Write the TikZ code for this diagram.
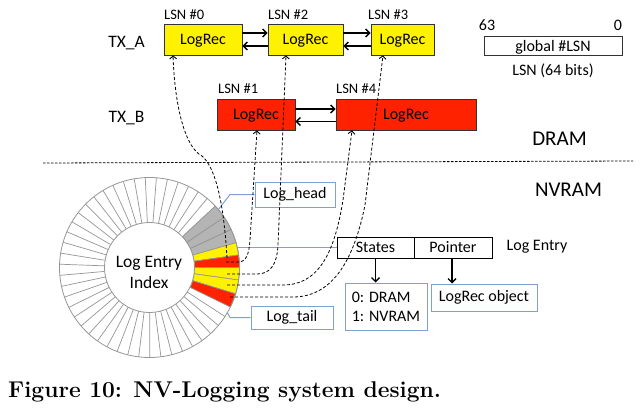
\documentclass[tikz,border=0pt]{standalone}
\usepackage{fontspec}
\newfontfamily\carl{Carlito}
\usetikzlibrary{arrows.meta}
\definecolor{bluebd}{RGB}{126,160,210}
\definecolor{redfill}{RGB}{255,34,0}
\definecolor{grayfill}{RGB}{180,180,180}
\definecolor{ringline}{RGB}{150,150,150}
\tikzset{
  lrbox/.style={draw=black!80, line width=0.8pt, minimum height=31pt, inner sep=0pt, text depth=0pt, font=\carl\fontsize{16}{19}\selectfont},
  lsnlbl/.style={inner sep=0pt, anchor=west, font=\carl\fontsize{14.5}{17}\selectfont},
  txtsix/.style={inner sep=0pt, font=\carl\fontsize{16}{19}\selectfont},
  bluebox/.style={draw=bluebd, line width=1pt, inner sep=0pt, font=\carl\fontsize{16}{19}\selectfont},
  bluecon/.style={draw=bluebd, line width=1pt},
  solidarr/.style={line width=1.4pt, -{Straight Barb[length=4pt,width=8pt]}},
  dasharr/.style={dash pattern=on 3pt off 2pt, line width=0.8pt, -{Straight Barb[length=3pt,width=7pt,line width=0.9pt]}},
  entrybox/.style={draw=black, line width=0.9pt, minimum height=21pt, inner sep=0pt, font=\carl\fontsize{16}{19}\selectfont},
}
\begin{document}
\begin{tikzpicture}[x=1pt,y=-1pt]
\useasboundingbox (0,0) rectangle (641,415);

% ---- DRAM part ----
\node[inner sep=0pt, anchor=base, font=\carl\fontsize{17.5}{20}\selectfont] (txa) at (126.5,47) {TX\_A};
\node[inner sep=0pt, anchor=base, font=\carl\fontsize{17.5}{20}\selectfont] (txb) at (126.5,122) {TX\_B};

\node[lrbox, fill=yellow, minimum width=78pt] (b0) at (203,39.5) {LogRec};
\node[lrbox, fill=yellow, minimum width=75pt] (b2) at (305.5,39.5) {LogRec};
\node[lrbox, fill=yellow, minimum width=63pt] (b3) at (402.5,39.5) {LogRec};
\node[lrbox, fill=redfill, minimum width=78pt] (b1) at (256,114.5) {LogRec};
\node[lrbox, fill=redfill, minimum width=140pt] (b4) at (406,114.5) {LogRec};

\node[lsnlbl] (l0) at (164,15) {LSN \#0};
\node[lsnlbl] (l2) at (268,15) {LSN \#2};
\node[lsnlbl] (l3) at (368,15) {LSN \#3};
\node[lsnlbl] (l1) at (218,89) {LSN \#1};
\node[lsnlbl] (l4) at (336,89) {LSN \#4};

\draw[solidarr] ([yshift=6.5pt]b0.east) -- ([yshift=6.5pt]b2.west);
\draw[solidarr] ([yshift=-6.5pt]b2.west) -- ([yshift=-6.5pt]b0.east);
\draw[solidarr] ([yshift=6.5pt]b2.east) -- ([yshift=6.5pt]b3.west);
\draw[solidarr] ([yshift=-6.5pt]b3.west) -- ([yshift=-6.5pt]b2.east);
\draw[solidarr] ([yshift=5.5pt]b1.east) -- ([yshift=5.5pt]b4.west);
\draw[solidarr] ([yshift=-7pt]b4.west) -- ([yshift=-7pt]b1.east);

\node[draw=black!80, line width=0.8pt, minimum width=138pt, minimum height=19pt, inner sep=0pt, text depth=0pt, font=\carl\fontsize{16}{19}\selectfont] (glsn) at (553,45.5) {global \#LSN};
\node[txtsix] (n63) at (487,25) {63};
\node[txtsix] (n0) at (618,25) {0};
\node[txtsix] (lsnbits) at (553,71) {LSN (64 bits)};

\node[inner sep=0pt, font=\carl\fontsize{21}{24}\selectfont] (dram) at (559.5,139) {DRAM};
\node[inner sep=0pt, font=\carl\fontsize{21}{24}\selectfont] (nvram) at (568.5,190) {NVRAM};

\draw[line width=0.8pt, dash pattern=on 2.5pt off 1.5pt] (43,163) -- (633,161);

% ---- ring ----
\begin{scope}[shift={(149.5,267.5)}, yscale=-1]
  \fill[white] (0,0) circle[radius=90];
  \foreach \i in {0,...,41} {
    \draw[ringline, line width=0.7pt] ({43+7.1*\i}:45) -- ({43+7.1*\i}:90);
  }
  \foreach \a/\b/\c in {16/25/grayfill,25/34/grayfill,34/43/grayfill,8/16/yellow,0/8/redfill,-8/0/yellow,-17/-8/yellow,-26/-17/redfill} {
    \filldraw[fill=\c, draw=ringline, line width=0.7pt] (\a:45) arc[start angle=\a, end angle=\b, radius=45] -- (\b:90) arc[start angle=\b, end angle=\a, radius=90] -- cycle;
  }
  \draw[ringline, line width=0.8pt] (0,0) circle[radius=90];
  \draw[ringline, line width=0.8pt, fill=white] (0,0) circle[radius=45];
\end{scope}
\node[inner sep=0pt, align=center, font=\carl\fontsize{17.5}{21}\selectfont] (ringtxt) at (149,272) {Log Entry\\Index};

% ---- NVRAM boxes ----
\node[bluebox, minimum width=80pt, minimum height=25pt] (lh) at (295,194.5) {Log\_head};
\node[bluebox, minimum width=82pt, minimum height=23pt] (lt) at (292,317.5) {Log\_tail};
\coordinate (lhk) at (230,194.5);
\coordinate (lhend) at (218,210);
\coordinate (ltk) at (230,317.5);
\coordinate (ltend) at (227,312);
\draw[bluecon] (lh.west) -- (lhk) -- (lhend);
\draw[bluecon] (lt.west) -- (ltk) -- (ltend);

\node[entrybox, minimum width=77pt] (st) at (375.5,247.5) {States};
\node[entrybox, minimum width=78pt] (pt) at (453,247.5) {Pointer};
\node[txtsix] (lelbl) at (537,247) {Log Entry};
\coordinate (leend) at (237,247.5);
\draw[bluecon] (leend) -- (st.west);

\node[bluebox, minimum width=82pt, minimum height=47pt, align=left, font=\carl\fontsize{16}{19}\selectfont] (dm) at (386,306.5) {0: DRAM\\1: NVRAM};
\node[bluebox, minimum width=106pt, minimum height=27pt] (lo) at (484,297.5) {LogRec object};
\draw[solidarr] (st.south) -- (st.south |- dm.north);
\draw[solidarr] ([xshift=-1pt]pt.south) -- ([xshift=-1pt]pt.south |- lo.north);

% ---- dashed pointers ----
\coordinate (e0) at (227,258);
\coordinate (e1) at (226,262);
\coordinate (e2) at (227,274);
\coordinate (e4) at (227,285);
\coordinate (e3) at (230,297);
\draw[dasharr] (e0) .. controls (224,205) and (216,168) .. (202,156) .. controls (186,148) and (175,110) .. ([xshift=-30pt]b0.south);
\draw[dasharr] (e1) -- (238,262) .. controls (246,262) and (249,255) .. (250,240) -- ([xshift=1pt]b1.south);
\draw[dasharr] (e2) -- (257,274) .. controls (270,274) and (277,265) .. (278,245) -- ([xshift=-19.5pt]b2.south);
\draw[dasharr] (e4) -- (283,285) .. controls (320,285) and (335,250) .. (343,200) -- ([xshift=-54pt]b4.south);
\draw[dasharr] (e3) -- (293,297) .. controls (335,297) and (355,255) .. (365,205) -- ([xshift=-19.5pt]b3.south);

% ---- caption ----
\node[anchor=base west, inner sep=0pt, font=\fontsize{22.8}{27}\bfseries] (cap) at (8,397) {Figure 10: NV-Logging system design.};
\end{tikzpicture}
\end{document}
